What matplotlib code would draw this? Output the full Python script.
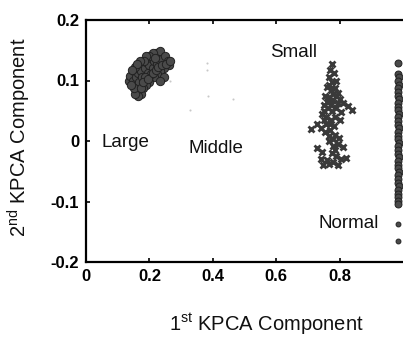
import matplotlib
matplotlib.use("Agg")
import matplotlib.pyplot as plt

plt.rcParams['font.family'] = ['Liberation Sans', 'DejaVu Sans']
plt.rcParams['mathtext.fontset'] = 'custom'
plt.rcParams['mathtext.rm'] = 'Liberation Sans'

# Large fault cluster
large_x = [0.135, 0.140, 0.150, 0.148, 0.158, 0.165, 0.160, 0.170, 0.175, 0.168,
           0.178, 0.185, 0.190, 0.195, 0.200, 0.205, 0.210, 0.215, 0.220, 0.225,
           0.230, 0.235, 0.240, 0.250, 0.258, 0.262, 0.245, 0.235, 0.225, 0.215,
           0.200, 0.190, 0.180, 0.175, 0.165, 0.155, 0.150, 0.172, 0.205, 0.185,
           0.212, 0.245, 0.232, 0.200, 0.190, 0.142, 0.155, 0.180, 0.195, 0.210,
           0.220, 0.228, 0.240, 0.252, 0.182, 0.170, 0.160, 0.145, 0.218, 0.266]
large_y = [0.100, 0.108, 0.115, 0.100, 0.105, 0.112, 0.120, 0.125, 0.115, 0.098,
           0.105, 0.120, 0.130, 0.112, 0.125, 0.138, 0.120, 0.132, 0.145, 0.128,
           0.140, 0.148, 0.135, 0.140, 0.132, 0.125, 0.120, 0.115, 0.110, 0.105,
           0.098, 0.093, 0.088, 0.078, 0.075, 0.078, 0.088, 0.088, 0.110, 0.105,
           0.145, 0.105, 0.100, 0.140, 0.140, 0.092, 0.122, 0.097, 0.103, 0.112,
           0.118, 0.122, 0.126, 0.128, 0.132, 0.132, 0.128, 0.118, 0.138, 0.132]

# Small fault cluster
small_x = [0.776, 0.770, 0.782, 0.765, 0.775, 0.790, 0.760, 0.772, 0.785, 0.795,
           0.755, 0.768, 0.780, 0.800, 0.812, 0.825, 0.838, 0.750, 0.762, 0.775,
           0.790, 0.745, 0.758, 0.772, 0.785, 0.800, 0.730, 0.710, 0.740, 0.755,
           0.770, 0.785, 0.798, 0.765, 0.780, 0.795, 0.812, 0.730, 0.745, 0.775,
           0.790, 0.805, 0.820, 0.760, 0.748, 0.765, 0.780, 0.795, 0.740, 0.768,
           0.778, 0.788, 0.762, 0.772, 0.752, 0.795, 0.805, 0.758, 0.770, 0.782,
           0.765, 0.778, 0.786, 0.750, 0.760]
small_y = [0.128, 0.118, 0.112, 0.105, 0.098, 0.100, 0.090, 0.085, 0.088, 0.080,
           0.075, 0.072, 0.068, 0.070, 0.062, 0.058, 0.052, 0.060, 0.055, 0.050,
           0.055, 0.045, 0.040, 0.035, 0.040, 0.035, 0.028, 0.020, 0.022, 0.015,
           0.018, 0.010, 0.005, 0.000, -0.008, -0.005, -0.010, -0.012, -0.018, -0.020,
           -0.025, -0.030, -0.028, -0.032, -0.040, -0.038, -0.035, -0.040, -0.030, 0.092,
           0.078, 0.075, 0.065, 0.060, 0.050, 0.062, 0.048, 0.028, 0.028, 0.025,
           0.008, 0.003, -0.015, 0.035, 0.065]

# Normal cluster
normal_x = [0.985, 0.983, 0.986, 0.984, 0.986, 0.983, 0.985, 0.984, 0.986, 0.983,
            0.985, 0.984, 0.986, 0.983, 0.985, 0.984, 0.986, 0.983, 0.985, 0.984,
            0.986, 0.983, 0.985, 0.984, 0.986, 0.983, 0.985, 0.984, 0.986, 0.983,
            0.985, 0.984, 0.986, 0.983, 0.985, 0.984, 0.985, 0.984]
normal_y = [0.129, 0.111, 0.105, 0.099, 0.093, 0.087, 0.081, 0.075, 0.069, 0.063,
            0.057, 0.051, 0.045, 0.039, 0.033, 0.027, 0.021, 0.015, 0.009, 0.003,
            -0.003, -0.009, -0.015, -0.021, -0.027, -0.033, -0.039, -0.045, -0.051, -0.057,
            -0.063, -0.069, -0.075, -0.081, -0.087, -0.093, -0.099, -0.104]
normal_sparse_x = [0.984, 0.983]
normal_sparse_y = [-0.137, -0.165]

# Middle fault (faint scattered points)
middle_x = [0.382, 0.382, 0.385, 0.328, 0.464, 0.265]
middle_y = [0.129, 0.117, 0.074, 0.051, 0.069, 0.099]

x_ticks = [0, 0.2, 0.4, 0.6, 0.8]
x_ticklabels = ['0', '0.2', '0.4', '0.6', '0.8']
y_ticks = [-0.2, -0.1, 0, 0.1, 0.2]
y_ticklabels = ['-0.2', '-0.1', '0', '0.1', '0.2']

labels = ['Large', 'Middle', 'Small', 'Normal']
label_x = [0.05, 0.322, 0.58, 0.732]
label_y = [-0.003, -0.013, 0.147, -0.136]

fig = plt.figure(figsize=(4.03, 3.38), dpi=100)
left = 86 / 403
bottom = (338 - 262) / 338
height = (262 - 20) / 338
xmax = 1.04
width = (317 * xmax) / 403
ax = fig.add_axes([left, bottom, width, height])

ax.plot(middle_x, middle_y, 'o', ms=1.5, color='#c8c8c8', mec='none')
ax.plot(large_x, large_y, 'o', ms=6, color='#4a4a4a', mec='#222222', mew=0.7)
ax.plot(small_x, small_y, 'x', ms=4.5, color='#3a3a3a', mew=2.0)
ax.plot(normal_x, normal_y, 'o', ms=5, color='#4a4a4a', mec='#222222', mew=0.7)
ax.plot(normal_sparse_x, normal_sparse_y, 'o', ms=3.5, color='#4a4a4a', mec='#222222', mew=0.7)

for t, x, y in zip(labels, label_x, label_y):
    ax.text(x, y, t, fontsize=13.5, ha='left', va='center', color='#111111')

ax.set_xlim(0, xmax)
ax.set_ylim(-0.2, 0.2)
ax.set_xticks(x_ticks)
ax.set_xticklabels(x_ticklabels, fontsize=12, fontweight='bold')
ax.set_yticks(y_ticks)
ax.set_yticklabels(y_ticklabels, fontsize=12, fontweight='bold')
ax.tick_params(direction='in', length=3, width=1.2, top=True, right=False, pad=5)
for s in ax.spines.values():
    s.set_linewidth(1.6)

fig.text(266 / 403, 1 - 324 / 338, r'1$^{\rm st}$ KPCA Component', fontsize=14.5,
         ha='center', va='center', color='#111111')
fig.text(19 / 403, 1 - 137 / 338, r'2$^{\rm nd}$ KPCA Component', fontsize=14.5,
         ha='center', va='center', rotation=90, color='#111111')

fig.savefig('out.png', dpi=100)
